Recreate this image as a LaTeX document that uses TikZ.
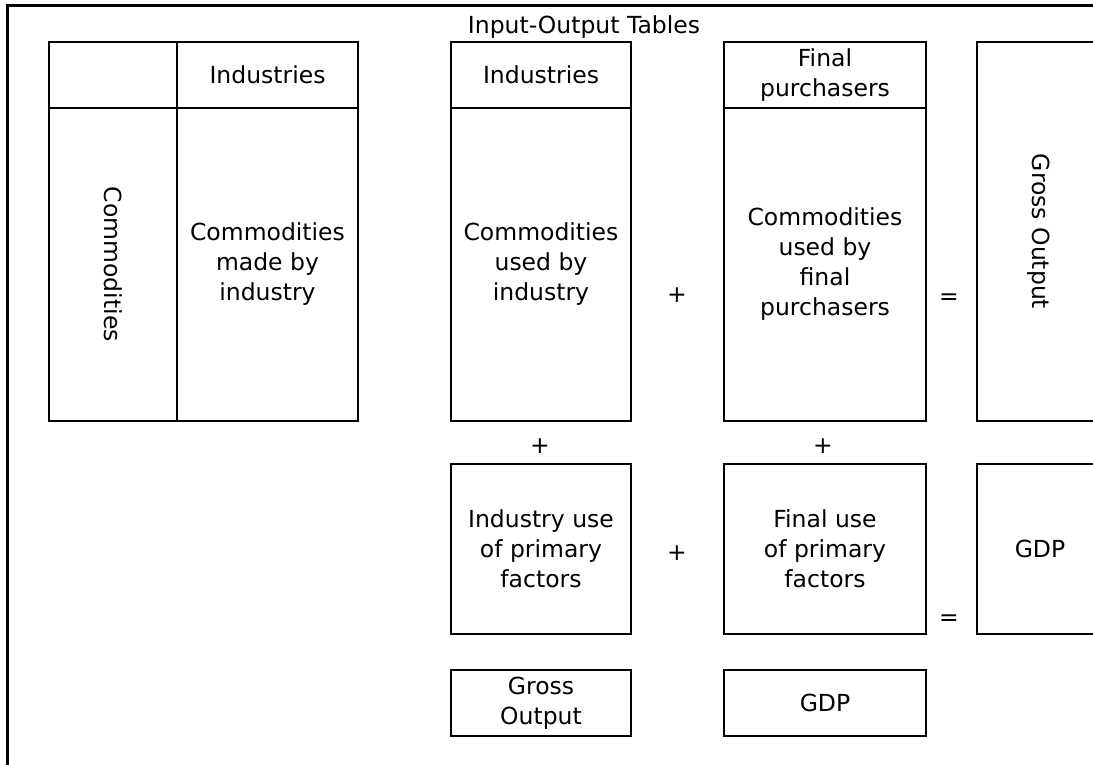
\documentclass[tikz,border=0pt]{standalone}
\usepackage{fontspec}
\setmainfont{DejaVu Sans}
\begin{document}
\begin{tikzpicture}[x=1pt,y=-1pt,line width=2pt,font=\fontsize{23.5}{30}\selectfont,
  cell/.style={draw,inner sep=0pt,align=center,anchor=north west},
  op/.style={inner sep=0pt}]
\def\hd{65.7} \def\bd{313.3} % header and body heights
\clip (0,0) rectangle (1093,765);
% frame, open to the right and below
\draw[line width=2.3pt] (1110,5.5) -- (7.5,5.5) -- (7.5,780);
\node (title) at (584,27) {Input-Output Tables};
% make table
\node[cell,minimum width=128pt,minimum height=\hd pt] (mkcorner) at (48,41) {};
\node[cell,minimum width=181pt,minimum height=\hd pt] (mkind) at (176,41) {Industries};
\node[cell,minimum width=128pt,minimum height=\bd pt] (mkcom) at (48,106.7) {\rotatebox{-90}{Commodities}};
\node[cell,minimum width=181pt,minimum height=\bd pt] (mkbody) at (176,106.7) {Commodities\\made by\\industry};
% use table
\node[cell,minimum width=180pt,minimum height=\hd pt] (useind) at (450,41) {Industries};
\node[cell,minimum width=202pt,minimum height=\hd pt] (usefin) at (723,41) {Final\\purchasers};
\node[cell,minimum width=180pt,minimum height=\bd pt] (useindbody) at (450,106.7) {Commodities\\used by\\industry};
\node[cell,minimum width=202pt,minimum height=\bd pt] (usefinbody) at (723,106.7) {Commodities\\used by\\final\\purchasers};
\node[cell,minimum width=124pt,minimum height=379pt] (gross) at (976,41) {\rotatebox{-90}{Gross Output}};
% primary factors
\node[cell,minimum width=180pt,minimum height=170pt] (indva) at (450,463) {Industry use\\of primary\\factors};
\node[cell,minimum width=202pt,minimum height=170pt] (finva) at (723,463) {Final use\\of primary\\factors};
\node[cell,minimum width=126pt,minimum height=170pt] (gdp) at (976,463) {GDP};
% totals
\node[cell,minimum width=180pt,minimum height=66pt] (totgross) at (450,669) {Gross\\Output};
\node[cell,minimum width=202pt,minimum height=66pt] (totgdp) at (723,669) {GDP};
% operators
\node[op] (plusa) at (677,295) {+};
\node[op] (eqa) at (949,299) {=};
\node[op] (plusb) at (540,446) {+};
\node[op] (plusc) at (823,446) {+};
\node[op] (plusd) at (677,553) {+};
\node[op] (eqb) at (949,620) {=};
\end{tikzpicture}
\end{document}
